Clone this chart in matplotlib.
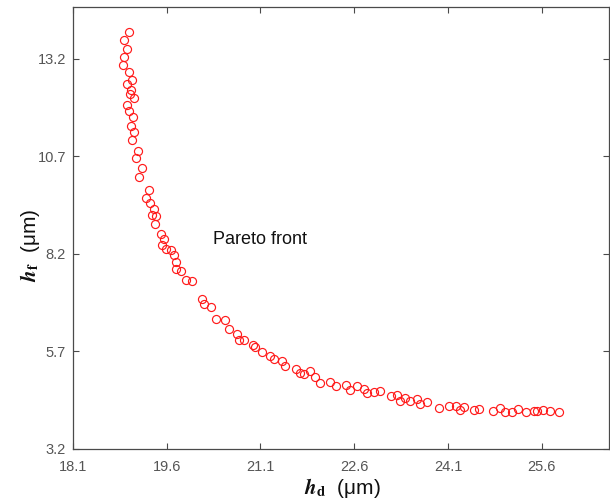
import numpy as np
import matplotlib
matplotlib.use("Agg")
import matplotlib.pyplot as plt

# Pareto set: drift height h_d vs. flow height h_f (um)
h_d = [
    19.00, 18.92, 18.97, 18.91, 18.90, 19.00, 19.04, 18.96, 19.03, 19.01,
    19.07, 18.96, 18.99, 19.06, 19.03, 19.07, 19.05, 19.14, 19.10, 19.20,
    19.15, 19.31, 19.27, 19.33, 19.40, 19.36, 19.43, 19.41, 19.50, 19.55,
    19.52, 19.58, 19.66, 19.72, 19.75, 19.74, 19.83, 19.90, 20.00, 20.16,
    20.20, 20.31, 20.38, 20.54, 20.59, 20.72, 20.75, 20.83, 20.98, 21.01,
    21.12, 21.26, 21.31, 21.44, 21.50, 21.67, 21.73, 21.79, 21.89, 21.98,
    22.05, 22.22, 22.31, 22.47, 22.54, 22.65, 22.75, 22.80, 22.92, 23.01,
    23.19, 23.28, 23.34, 23.41, 23.49, 23.60, 23.65, 23.76, 23.96, 24.12,
    24.23, 24.30, 24.35, 24.51, 24.60, 24.82, 24.93, 25.02, 25.12, 25.22,
    25.35, 25.47, 25.53, 25.62, 25.73, 25.88,
]
h_f = [
    13.89, 13.68, 13.46, 13.26, 13.04, 12.87, 12.65, 12.55, 12.41, 12.29,
    12.19, 12.02, 11.87, 11.72, 11.48, 11.32, 11.12, 10.83, 10.67, 10.41,
    10.17, 9.84, 9.64, 9.50, 9.36, 9.19, 9.17, 8.97, 8.70, 8.59,
    8.44, 8.32, 8.30, 8.17, 8.00, 7.81, 7.77, 7.53, 7.50, 7.04,
    6.92, 6.85, 6.54, 6.51, 6.27, 6.15, 6.00, 6.00, 5.87, 5.82,
    5.69, 5.59, 5.50, 5.46, 5.33, 5.24, 5.14, 5.12, 5.19, 5.04,
    4.89, 4.92, 4.82, 4.83, 4.71, 4.82, 4.75, 4.63, 4.66, 4.68,
    4.56, 4.58, 4.44, 4.51, 4.44, 4.47, 4.35, 4.41, 4.25, 4.30,
    4.29, 4.20, 4.27, 4.20, 4.23, 4.17, 4.25, 4.15, 4.15, 4.23,
    4.15, 4.17, 4.18, 4.20, 4.18, 4.15,
]

x_ticks = [18.1, 19.6, 21.1, 22.6, 24.1, 25.6]
y_ticks = [3.2, 5.7, 8.2, 10.7, 13.2]

plt.rcParams["font.family"] = ["Liberation Sans", "DejaVu Sans"]
plt.rcParams["mathtext.fontset"] = "stix"

axis_color = "#4a4a4a"
label_color = "#555555"

fig = plt.figure(figsize=(6.1, 5.0), dpi=100)
ax = fig.add_axes([0.1197, 0.102, 0.879, 0.884])

ax.plot(h_d, h_f, linestyle="none", marker="o", markersize=5.8,
        markerfacecolor="none", markeredgecolor="#ff1a1a", markeredgewidth=0.85)

ax.text(20.34, 8.56, "Pareto front", fontsize=13, color="#111111",
        ha="left", va="center")

ax.set_xlim(18.1, 26.68)
ax.set_ylim(3.2, 14.53)
ax.set_xticks(x_ticks)
ax.set_yticks(y_ticks)
ax.set_xticklabels([f"{v:.1f}" for v in x_ticks])
ax.set_yticklabels([f"{v:.1f}" for v in y_ticks])

ax.tick_params(direction="in", length=4, width=0.8, top=True, right=True,
               color=axis_color, labelcolor=label_color, labelsize=10.5)
ax.tick_params(axis="x", pad=8)
ax.tick_params(axis="y", pad=5)
for s in ax.spines.values():
    s.set_color(axis_color)
    s.set_linewidth(0.9)

ax.set_xlabel(r"$\mathbfit{h}_{\mathbf{d}}$  (μm)", fontsize=15, color="#111111")
ax.set_ylabel(r"$\mathbfit{h}_{\mathbf{f}}$  (μm)", fontsize=15, color="#111111")
ax.xaxis.set_label_coords(0.503, -0.06)
ax.yaxis.set_label_coords(-0.058, 0.46)

fig.savefig("out.png", dpi=100, facecolor="white")
